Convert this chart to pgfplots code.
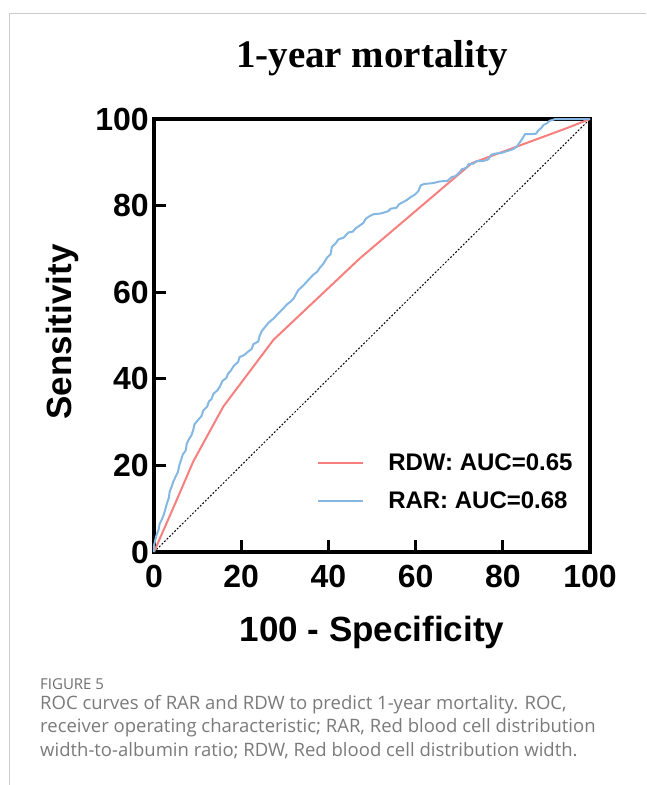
\documentclass[border=0pt]{standalone}
\usepackage{fontspec}
\setmainfont{Liberation Sans}
\newfontfamily\timesfont{Liberation Serif}
\newfontfamily\capfont{Open Sans}
\usepackage{pgfplots}
\pgfplotsset{compat=1.18}
\definecolor{rdw}{HTML}{F7807E}
\definecolor{rar}{HTML}{84B8E2}
\definecolor{capgray}{HTML}{7A7A7A}
\begin{document}
\begin{tikzpicture}
\path[use as bounding box] (0pt,0pt) rectangle (646pt,-785pt);
\draw[black!20, line width=1pt] (9pt,-13pt) -- (646pt,-13pt);
\draw[black!20, line width=1pt] (9pt,-13pt) -- (9pt,-785pt);
\node[font=\timesfont\bfseries\fontsize{39}{39}\selectfont] at (372pt,-58pt) {1-year mortality};
\begin{axis}[
  at={(154pt,-552pt)}, anchor=south west,
  scale only axis, width=436pt, height=433pt,
  xmin=0, xmax=100, ymin=0, ymax=100,
  xtick={0,20,40,60,80,100}, ytick={0,20,40,60,80,100},
  major tick length=0pt,
  tick style={draw=none},
  axis line style={line width=3.5pt, black},
  /pgf/number format/assume math mode=true,
  tick label style={font=\bfseries\fontsize{32}{32}\selectfont},
  xticklabel style={inner sep=0pt, yshift=-13pt},
  yticklabel style={inner sep=0pt, xshift=-5pt},
  xlabel={100 - Specificity}, ylabel={Sensitivity},
  label style={font=\bfseries\fontsize{35}{35}\selectfont},
  xlabel style={at={(axis description cs:0.5,-0.185)}, anchor=center},
  ylabel style={at={(axis description cs:-0.209,0.508)}, anchor=center},
  clip=false,
  legend style={at={(axis description cs:0.374,0.162)}, anchor=west, draw=none, fill=none, inner sep=0pt, row sep=20pt,
    font=\bfseries\fontsize{24}{24}\selectfont, nodes={inner sep=0pt}},
  legend image code/.code={\draw[#1] (0pt,0pt) -- (45pt,0pt);},
  legend cell align=left,
  /tikz/every odd column/.append style={column sep=24pt},
  extra description/.code={
    \draw[black, line width=3pt] (axis cs:0,20) -- (axis cs:2.8,20);
    \draw[black, line width=3pt] (axis cs:0,40) -- (axis cs:2.8,40);
    \draw[black, line width=3pt] (axis cs:0,60) -- (axis cs:2.8,60);
    \draw[black, line width=3pt] (axis cs:0,80) -- (axis cs:2.8,80);
    \draw[black, line width=3pt] (axis cs:20,0) -- (axis cs:20,2.8);
    \draw[black, line width=3pt] (axis cs:40,0) -- (axis cs:40,2.8);
    \draw[black, line width=3pt] (axis cs:60,0) -- (axis cs:60,2.8);
    \draw[black, line width=3pt] (axis cs:80,0) -- (axis cs:80,2.8);
  },
]
\addplot[black, line width=1pt, dash pattern=on 1.8pt off 1.8pt, forget plot] coordinates {(0,0) (100,100)};
\addplot[rdw, line width=2pt] coordinates {
(0,0) (5.2,12) (9,20.9) (15.9,33.6) (27.4,49) (47.2,67.8) (72.9,89.8) (94.7,97.9) (100,100)};
\addlegendentry{RDW: AUC=0.65}
\addplot[rar, line width=2pt] coordinates {
(0,0) (0,1.5) (0.3,2.8) (0.6,4) (1,5) (1.3,6.5) (1.8,7.5) (2.2,8.5) (2.5,9.5) (2.9,11) (3.4,12.5) (3.6,14) (4.1,15.2) (4.4,16.2) (5.0,17.5) (5.5,18.5) (5.8,20) (6.2,21.2) (6.6,22.5) (7.3,23.5) (7.5,25) (8.0,26) (8.6,27) (9.0,28.2) (9.3,29.5) (10.1,30.5) (10.9,31.4) (11.3,32.7) (12.2,33.6) (12.6,34.8) (13.2,35.3) (13.6,36.5) (14.5,37.3) (15.1,38.2) (15.7,39.5) (16.6,40.2) (17.0,41.2) (17.7,42.0) (18.3,43.0) (19.3,43.9) (19.6,45) (20.7,45.5) (21.5,46.2) (22.4,46.9) (22.8,48) (23.9,48.6) (24.2,49.8) (24.7,51) (25.5,52) (26.2,52.9) (27.5,54) (28.4,55) (29.7,56.3) (30.5,57.2) (31.3,57.8) (32.0,58.5) (33.1,60.5) (34.2,61.5) (35.2,62.6) (36.5,64) (37.4,64.7) (38,65.6) (38.8,66.5) (39.7,68) (40.5,68.8) (40.8,70.5) (41.6,71.2) (42.3,72.2) (43.5,72.6) (44.6,73.8) (45.6,74) (46.3,74.8) (47.2,75.4) (48,76) (48.6,77) (49.5,77.6) (50.3,78) (52.1,78.2) (53.7,78.7) (54.3,79.3) (55.6,79.5) (56.2,80.3) (57.1,80.8) (58,81.3) (58.9,82) (59.8,82.5) (60.6,83.3) (61.2,84.7) (62,85) (64,85.2) (65.6,85.6) (67.3,85.7) (68.3,86.6) (69.1,86.8) (70,87.6) (70.6,88.4) (71.6,88.7) (72.2,89.6) (73.3,89.7) (74,90.3) (75.5,90.3) (76.7,90.7) (77.3,91.7) (78.2,92.0) (79.8,92.2) (81,92.6) (82.3,93.0) (83.2,93.6) (83.9,94.6) (84.5,95.5) (85.1,96.5) (86.5,96.5) (87.6,96.6) (88.1,97.3) (88.9,98.0) (89.3,98.6) (90.1,99.0) (90.7,99.6) (91.5,99.8) (92,100) (100,100)};
\addlegendentry{RAR: AUC=0.68}
\end{axis}
\node[anchor=base west, text=capgray!90!black, font=\capfont\fontsize{15}{15}\selectfont, inner sep=0pt] at (40pt,-689pt) {FIGURE 5};
\node[anchor=north west, align=left, text=capgray, font=\capfont\fontsize{18.5}{23.5}\selectfont, inner sep=0pt] at (40pt,-695pt) {ROC curves of RAR and RDW to predict 1-year mortality. ROC,\\receiver operating characteristic; RAR, Red blood cell distribution\\width-to-albumin ratio; RDW, Red blood cell distribution width.};
\end{tikzpicture}
\end{document}
